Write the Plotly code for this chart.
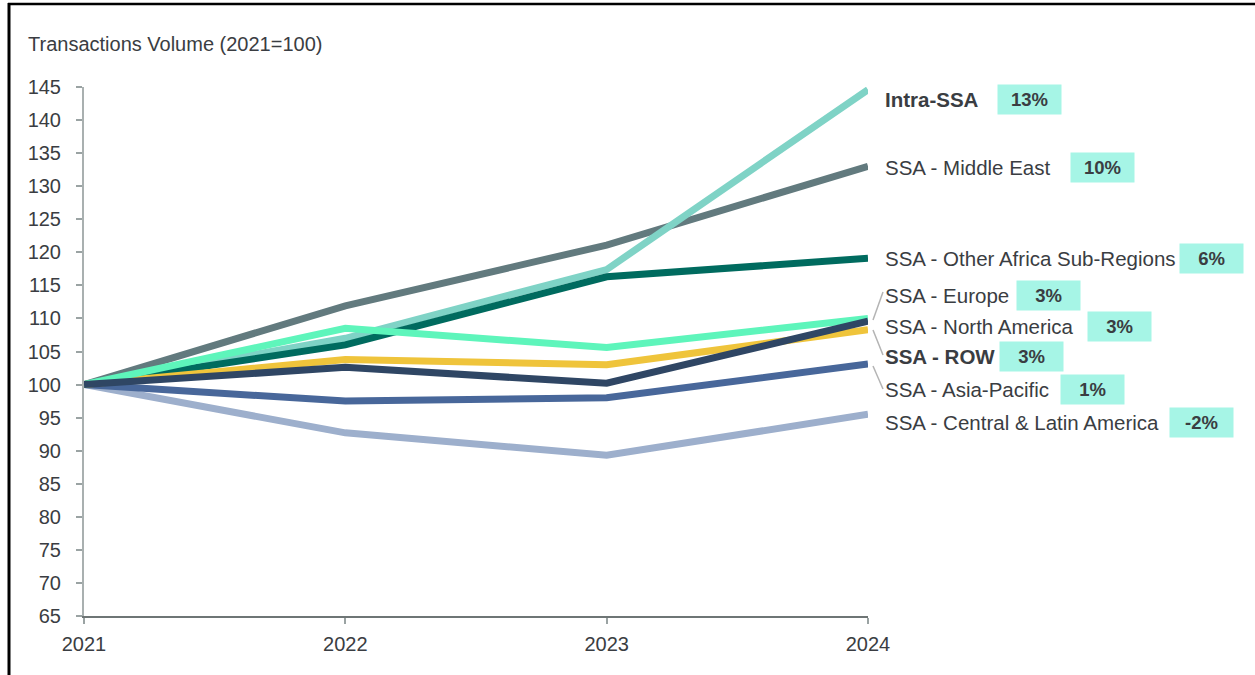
import plotly.graph_objects as go

years = [2021, 2022, 2023, 2024]

intra_ssa = [100, 107.0, 117.4, 144.6]
ssa_middle_east = [100, 111.9, 121.1, 133.0]
ssa_other_africa = [100, 106.0, 116.3, 119.1]
ssa_europe = [100, 108.5, 105.6, 110.0]
ssa_north_america = [100, 103.8, 103.0, 108.3]
ssa_row = [100, 102.6, 100.2, 109.6]
ssa_asia_pacific = [100, 97.5, 98.0, 103.1]
ssa_central_latam = [100, 92.7, 89.3, 95.5]

series_names = ["Intra-SSA", "SSA - Middle East", "SSA - Other Africa Sub-Regions",
                "SSA - Europe", "SSA - North America", "SSA - ROW",
                "SSA - Asia-Pacific", "SSA - Central & Latin America"]
growth_labels = ["13%", "10%", "6%", "3%", "3%", "3%", "1%", "-2%"]
y_ticks = list(range(65, 150, 5))

series_values = [intra_ssa, ssa_middle_east, ssa_other_africa, ssa_europe,
                 ssa_north_america, ssa_row, ssa_asia_pacific, ssa_central_latam]
colors = ["#7fd3c6", "#627a7e", "#006b5f", "#5ef5bb", "#efc43b", "#2f4664",
          "#48679a", "#9dafcc"]
bold = [True, False, False, False, False, True, False, False]

FONT = "Liberation Sans, Arial, sans-serif"
TXT = "#3a3d42"

# layout: plot area in pixels
W, H = 1255, 675
L, R, T, B = 84, 868, 87, 616


def px(x):
    return (x - L) / (R - L)


def py(y):
    return (B - y) / (B - T)


# label placement (pixels)
label_y_px = [99, 167, 258, 295, 326, 356, 389, 422]
box_left_px = [998, 1071, 1180, 1017, 1088, 1000, 1061, 1170]

draw_order = [1, 0, 2, 7, 6, 4, 3, 5]

fig = go.Figure()
for i in draw_order:
    fig.add_trace(go.Scatter(
        x=years, y=series_values[i], mode="lines", name=series_names[i],
        line=dict(color=colors[i], width=7), showlegend=False,
        hoverinfo="x+y+name",
    ))

annotations = []
for i, name in enumerate(series_names):
    txt = f"<b>{name}</b>" if bold[i] else name
    annotations.append(dict(
        x=px(883), y=py(label_y_px[i]), xref="paper", yref="paper",
        text=txt, showarrow=False, xanchor="left", yanchor="middle",
        font=dict(family=FONT, size=20.5, color=TXT),
    ))
    annotations.append(dict(
        x=px(box_left_px[i] + 31.5), y=py(label_y_px[i]), xref="paper",
        yref="paper", text=f"<b>{growth_labels[i]}</b>", showarrow=False,
        xanchor="center", yanchor="middle", width=59, height=25,
        bgcolor="#a6f5e6", borderpad=2,
        font=dict(family=FONT, size=18.5, color=TXT),
    ))

annotations.append(dict(
    x=px(26), y=py(44), xref="paper", yref="paper",
    text="Transactions Volume (2021=100)", showarrow=False,
    xanchor="left", yanchor="middle",
    font=dict(family=FONT, size=20, color=TXT),
))

shapes = []
# leader lines
for (x0, y0, x1, y1) in [(873, 320, 883, 292), (873, 330, 883, 355),
                         (873, 366, 883, 389)]:
    shapes.append(dict(type="line", xref="paper", yref="paper",
                       x0=px(x0), y0=py(y0), x1=px(x1), y1=py(y1),
                       line=dict(color="#b4b4b4", width=1.5)))
# frame (top and left edges)
shapes.append(dict(type="line", xref="paper", yref="paper",
                   x0=px(8), y0=py(4), x1=px(1255), y1=py(4),
                   line=dict(color="#000000", width=2.5)))
shapes.append(dict(type="line", xref="paper", yref="paper",
                   x0=px(9), y0=py(3), x1=px(9), y1=py(675),
                   line=dict(color="#000000", width=3)))

fig.update_layout(
    width=W, height=H,
    margin=dict(l=L, r=W - R, t=T, b=H - B, pad=0),
    paper_bgcolor="white", plot_bgcolor="white",
    font=dict(family=FONT, size=20, color=TXT),
    xaxis=dict(range=[2021, 2024], tickvals=years, ticktext=[str(y) for y in years],
               showgrid=False, zeroline=False, showline=True,
               linecolor="#6e7575", linewidth=2, ticks="outside",
               ticklen=6, tickcolor="#9aa3a3", tickwidth=2,
               ticklabelstandoff=3,
               tickfont=dict(size=20, color=TXT)),
    yaxis=dict(range=[65, 145], tickvals=y_ticks,
               showgrid=False, zeroline=False, showline=True,
               linecolor="#a9b0b0", linewidth=2, ticks="outside",
               ticklen=6, tickcolor="#9aa3a3", tickwidth=2,
               ticklabelstandoff=11,
               tickfont=dict(size=20, color=TXT)),
    annotations=annotations,
    shapes=shapes,
)

fig.write_html("out.html")
